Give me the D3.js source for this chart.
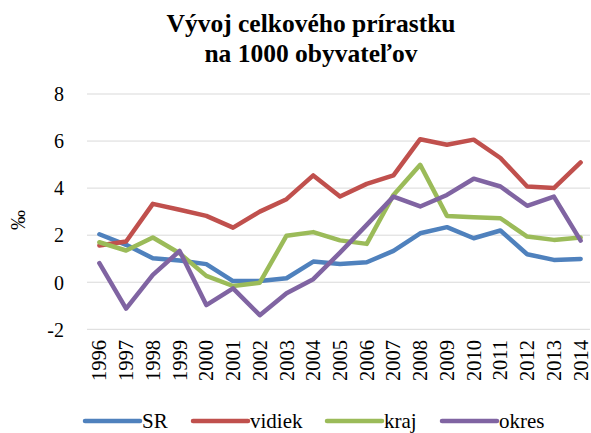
<!DOCTYPE html>
<html>
<head>
<meta charset="utf-8">
<script src="https://cdn.jsdelivr.net/npm/d3@7"></script>
<style>
html,body{margin:0;padding:0;background:#fff;}
svg{display:block;}
svg text{font-family:"Liberation Serif","Times New Roman",serif !important;}
</style>
</head>
<body>
<svg id="chart" width="591" height="433"></svg>
<script>
const years = ["1996","1997","1998","1999","2000","2001","2002","2003","2004","2005","2006","2007","2008","2009","2010","2011","2012","2013","2014"];
const seriesNames = ["SR","vidiek","kraj","okres"];
const srValues = [2.04,1.59,1.02,0.92,0.77,0.05,0.05,0.17,0.88,0.78,0.85,1.33,2.08,2.34,1.87,2.20,1.19,0.95,0.99];
const vidiekValues = [1.56,1.73,3.33,3.08,2.82,2.32,3.00,3.53,4.54,3.64,4.18,4.54,6.08,5.84,6.06,5.28,4.07,4.00,5.09];
const krajValues = [1.70,1.35,1.90,1.23,0.27,-0.16,-0.02,1.98,2.13,1.78,1.63,3.71,4.99,2.82,2.76,2.72,1.94,1.80,1.90];
const okresValues = [0.81,-1.12,0.31,1.33,-0.97,-0.26,-1.40,-0.47,0.13,1.26,2.44,3.64,3.22,3.71,4.40,4.07,3.25,3.64,1.77];
const yTicks = [-2,0,2,4,6,8];
const yTickLabels = ["-2","0","2","4","6","8"];
const titleLines = ["Vývoj celkového prírastku","na 1000 obyvateľov"];
const yLabel = "‰";

const colors = ["#4F81BD","#C0504D","#9BBB59","#8064A2"];
const allValues = [srValues, vidiekValues, krajValues, okresValues];
const serif = '"Liberation Serif","Times New Roman",serif';

const svg = d3.select("#chart");
const x = d3.scalePoint().domain(years).range([86,594]).padding(0.5);
const y = d3.scaleLinear().domain([-2,8]).range([329.3,94]);

// title
svg.append("g").selectAll("text").data(titleLines).join("text")
  .attr("x", 311).attr("y", (d,i)=>32+i*30)
  .attr("text-anchor","middle")
  .style("font-family",serif)
  .attr("font-weight","bold").attr("font-size",25.5)
  .attr("fill","#000")
  .text(d=>d);

// gridlines
svg.append("g").selectAll("line").data(yTicks).join("line")
  .attr("x1",87).attr("x2",590)
  .attr("y1",d=>y(d)).attr("y2",d=>y(d))
  .attr("stroke","#d9d9d9").attr("stroke-width",1);

// y axis
const yAxis = d3.axisLeft(y).tickValues(yTicks).tickSize(0).tickPadding(0)
  .tickFormat((d,i)=>yTickLabels[i]);
const yg = svg.append("g").attr("transform","translate(64,0)").call(yAxis);
yg.attr("font-family",null);
yg.select(".domain").remove();
yg.selectAll("text").style("font-family",serif).attr("font-size",20).attr("fill","#000")
  .attr("dy","0.34em");

// y label
svg.append("text").attr("transform","translate(18,220) rotate(-90)")
  .attr("text-anchor","middle").attr("dominant-baseline","central")
  .style("font-family",serif)
  .attr("font-size",20).attr("fill","#000").text(yLabel);

// x axis
const xAxis = d3.axisBottom(x).tickSize(0).tickPadding(0);
const xg = svg.append("g").call(xAxis);
xg.attr("font-family",null);
xg.select(".domain").remove();
xg.selectAll(".tick").attr("transform", d=>`translate(${x(d)},340)`);
xg.selectAll("text")
  .attr("transform","rotate(-90)")
  .attr("x",0).attr("y",0).attr("dy",null)
  .attr("text-anchor","end")
  .attr("dominant-baseline","central")
  .style("font-family",serif)
  .attr("font-size",20.5).attr("fill","#000");

// lines
const line = d3.line().x((d,i)=>x(years[i])).y(d=>y(d));
svg.append("g").selectAll("path").data(allValues).join("path")
  .attr("d", d=>line(d))
  .attr("fill","none")
  .attr("stroke",(d,i)=>colors[i])
  .attr("stroke-width",4.5)
  .attr("stroke-linejoin","round")
  .attr("stroke-linecap","round");

// legend
const legendX = [85,193,327,442];
const lg = svg.append("g").selectAll("g").data(seriesNames).join("g")
  .attr("transform",(d,i)=>`translate(${legendX[i]},421)`);
lg.append("line").attr("x1",0).attr("x2",55).attr("y1",0).attr("y2",0)
  .attr("stroke",(d,i)=>colors[i]).attr("stroke-width",4.5).attr("stroke-linecap","round");
lg.append("text").attr("x",57).attr("y",7)
  .style("font-family",serif)
  .attr("font-size",21).attr("fill","#000").text(d=>d);
</script>
</body>
</html>
